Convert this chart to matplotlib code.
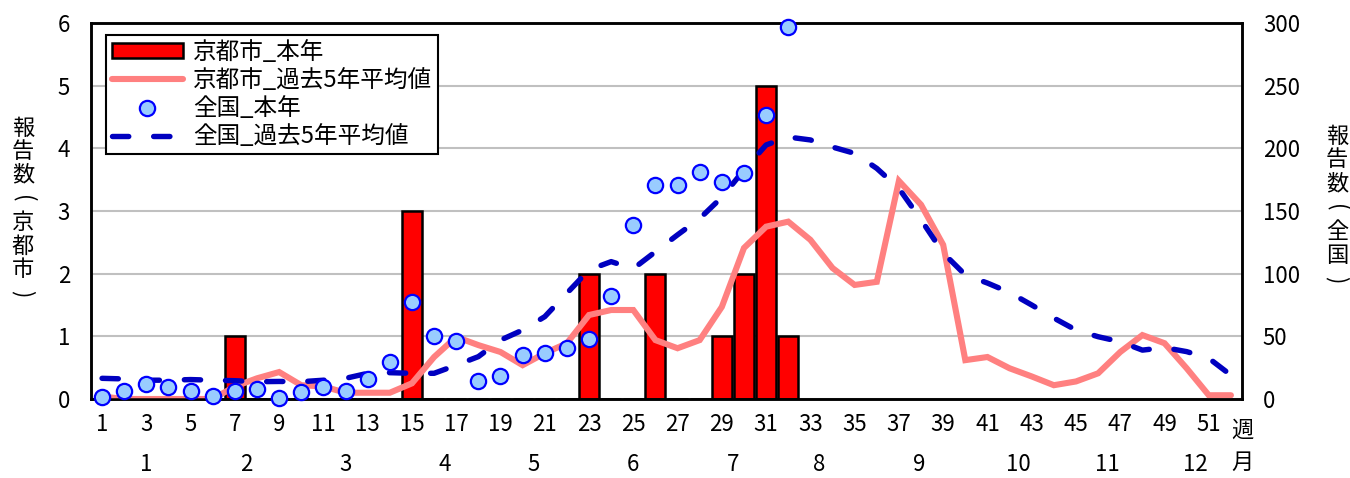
import numpy as np
import matplotlib
matplotlib.use("Agg")
import matplotlib.pyplot as plt
import matplotlib.transforms as mtransforms

plt.rcParams["font.family"] = ["Noto Sans CJK JP", "DejaVu Sans"]

# ---- データ ----
weeks = np.arange(1, 53)

# 京都市_本年 (週1-32)
kyoto_weeks = np.arange(1, 33)
kyoto_now = [0, 0, 0, 0, 0, 0, 1, 0, 0, 0, 0, 0, 0, 0, 3, 0,
             0, 0, 0, 0, 0, 0, 2, 0, 0, 2, 0, 0, 1, 2, 5, 1]

# 京都市_過去5年平均値
kyoto_avg = [0.04, 0.0, 0.0, 0.0, 0.0, 0.0, 0.2, 0.33, 0.43, 0.22,
             0.2, 0.1, 0.1, 0.1, 0.25, 0.67, 0.99, 0.86, 0.75, 0.54,
             0.73, 0.89, 1.34, 1.42, 1.42, 0.94, 0.81, 0.94, 1.47, 2.41,
             2.75, 2.83, 2.54, 2.09, 1.82, 1.87, 3.48, 3.1, 2.46, 0.62,
             0.67, 0.49, 0.36, 0.22, 0.28, 0.41, 0.75, 1.02, 0.89, 0.49,
             0.06, 0.06]

# 全国_本年 (週1-32)
nat_now = [1.9, 6.7, 12, 9.8, 6.7, 2.7, 6.7, 8, 0.5, 5.9,
           9.8, 6.7, 16, 29.8, 77, 50, 46, 14.6, 18, 35,
           37, 41, 48, 82.5, 139, 170.5, 170.5, 181, 173.5, 180,
           226.6, 297]

# 全国_過去5年平均値
nat_avg = [16.5, 16, 15, 15, 15.5, 15, 14.6, 13.8, 14, 13.8,
           15, 16.5, 20.5, 21, 20.5, 20.5, 27, 33.8, 47, 55,
           65.7, 84.4, 103, 109.6, 104, 117.5, 131, 144, 161, 182.7,
           202.7, 209, 206.7, 201, 196, 184, 168, 143, 116.5, 99,
           92.5, 85, 75, 64.6, 55, 49.7, 45.7, 39, 41, 37.8,
           32.5, 19]

# 月ラベル (週位置)
month_labels = [str(m) for m in range(1, 13)]
month_pos = [3.0, 7.5, 12.0, 16.5, 20.5, 25.0, 29.5, 33.4, 37.9, 42.4, 46.4, 50.4]

left_label = "報告数(京都市)"
right_label = "報告数(全国)"

W, H = 1350, 478
FS = 16

fig = plt.figure(figsize=(W / 100, H / 100), dpi=100)
ax = fig.add_axes([91 / W, 1 - 399 / H, (1242 - 91) / W, (399 - 23) / H])
ax2 = ax.twinx()

ax.set_axisbelow(True)
ax.yaxis.grid(True, color="#c0c0c0", linewidth=1.5)

bars = ax.bar(kyoto_weeks, kyoto_now, width=0.9, color="#ff0000",
              edgecolor="black", linewidth=1.8, label="京都市_本年", zorder=2)
l_kavg, = ax.plot(weeks, kyoto_avg, color="#ff8080", linewidth=4.4,
                  solid_capstyle="round", solid_joinstyle="miter",
                  label="京都市_過去5年平均値", zorder=3)

l_nnow, = ax2.plot(kyoto_weeks, nat_now, linestyle="none", marker="o",
                   markersize=11, markerfacecolor="#99ccff",
                   markeredgecolor="#0000ff", markeredgewidth=1.6,
                   label="全国_本年", clip_on=False, zorder=4)
l_navg, = ax2.plot(weeks, nat_avg, color="#0000c0", linewidth=3.9,
                   linestyle=(0, (3.0, 4.6)), dash_capstyle="round",
                   label="全国_過去5年平均値", zorder=3)

ax.set_xlim(0.5, 52.5)
ax.set_ylim(0, 6)
ax2.set_ylim(0, 300)
ax.set_yticks(range(0, 7))
ax2.set_yticks(range(0, 301, 50))
ax.set_xticks(range(1, 53, 2))

for a in (ax, ax2):
    a.tick_params(length=0, labelsize=FS)
    for s in a.spines.values():
        s.set_linewidth(1.8)
        s.set_color("black")
ax.tick_params(axis="y", pad=15)
ax2.tick_params(axis="y", pad=15)
ax.tick_params(axis="x", pad=10)

# 月ラベル
trans = mtransforms.blended_transform_factory(ax.transData, fig.transFigure)
for pos, lab in zip(month_pos, month_labels):
    ax.text(pos, 1 - 471 / H, lab, transform=trans, ha="center",
            va="baseline", fontsize=FS)
ax.text(52.5, 1 - 430 / H, "週", transform=trans, ha="center", va="center", fontsize=FS)
ax.text(52.5, 1 - 462 / H, "月", transform=trans, ha="center", va="center", fontsize=FS)


# 縦書き軸ラベル (1文字ずつ配置, 括弧は回転)
def vertical_label(x, y0, step, text):
    for i, ch in enumerate(text):
        rot = -90 if ch in "()" else 0
        fig.text(x / W, 1 - (y0 + i * step) / H, ch, ha="center", va="center",
                 fontsize=FS, rotation=rot, rotation_mode="anchor")


vertical_label(23, 128, 23.6, left_label)
vertical_label(1337, 136, 24.0, right_label)

leg = ax2.legend([bars, l_kavg, l_nnow, l_navg],
                 ["京都市_本年", "京都市_過去5年平均値", "全国_本年", "全国_過去5年平均値"],
                 loc="upper left", bbox_to_anchor=(15 / 1151, 1 - 12 / 376),
                 fontsize=17, frameon=True, fancybox=False, framealpha=1,
                 edgecolor="black", handlelength=3.0, handleheight=0.55,
                 labelspacing=0.22, borderpad=0.25, handletextpad=0.45,
                 borderaxespad=0)
leg.get_frame().set_linewidth(1.5)

fig.savefig("out.png", dpi=100)
